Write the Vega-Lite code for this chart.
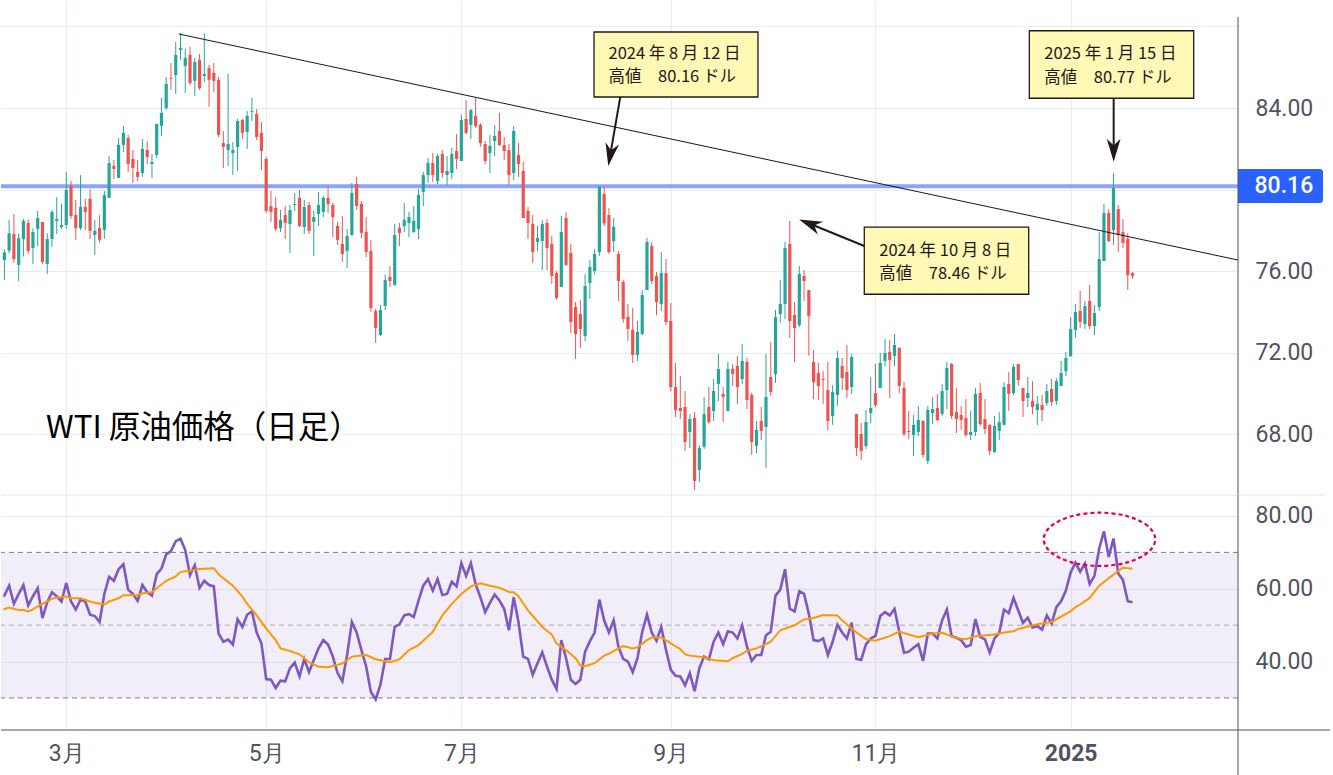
{
  "$schema": "https://vega.github.io/schema/vega-lite/v6.json",
  "padding": 0,
  "spacing": 0,
  "bounds": "flush",
  "background": "#ffffff",
  "config": {
    "view": {"stroke": null},
    "axis": {
      "title": null, "domain": false, "ticks": false, "labelFont": "Roboto", "labelFontSize": 23,
      "labelColor": "#50535e", "gridColor": "#e6eef4", "gridWidth": 1.2, "labelOverlap": false, "labelFlush": false
    }
  },
  "datasets": {
    "bars": [
      {"i":0,"o":76.54,"h":77.07,"l":75.56,"c":76.92},
      {"i":1,"o":76.99,"h":78.51,"l":76.87,"c":77.85},
      {"i":2,"o":77.82,"h":78.80,"l":76.41,"c":76.59},
      {"i":3,"o":76.30,"h":77.85,"l":75.51,"c":77.61},
      {"i":4,"o":77.57,"h":78.56,"l":76.71,"c":78.46},
      {"i":5,"o":78.36,"h":78.54,"l":76.84,"c":76.99},
      {"i":6,"o":77.13,"h":78.10,"l":76.35,"c":77.92},
      {"i":7,"o":78.07,"h":78.95,"l":77.23,"c":78.60},
      {"i":8,"o":78.41,"h":78.41,"l":76.35,"c":76.45},
      {"i":9,"o":76.35,"h":77.85,"l":75.86,"c":77.57},
      {"i":10,"o":77.57,"h":79.00,"l":77.18,"c":78.90},
      {"i":11,"o":78.46,"h":79.63,"l":77.82,"c":78.56},
      {"i":12,"o":78.16,"h":79.29,"l":78.07,"c":78.26},
      {"i":13,"o":78.26,"h":80.86,"l":78.07,"c":79.98},
      {"i":14,"o":80.17,"h":80.42,"l":78.56,"c":78.70},
      {"i":15,"o":78.75,"h":79.49,"l":77.53,"c":78.11},
      {"i":16,"o":78.11,"h":80.71,"l":78.02,"c":79.14},
      {"i":17,"o":79.14,"h":79.54,"l":78.02,"c":78.90},
      {"i":18,"o":79.54,"h":80.03,"l":77.57,"c":77.97},
      {"i":19,"o":77.77,"h":78.51,"l":76.79,"c":77.97},
      {"i":20,"o":78.11,"h":78.75,"l":77.38,"c":77.53},
      {"i":21,"o":78.02,"h":79.93,"l":77.57,"c":79.73},
      {"i":22,"o":79.59,"h":81.65,"l":79.59,"c":81.30},
      {"i":23,"o":81.16,"h":81.45,"l":80.52,"c":81.01},
      {"i":24,"o":80.57,"h":82.53,"l":80.57,"c":82.19},
      {"i":25,"o":82.19,"h":83.12,"l":81.84,"c":82.78},
      {"i":26,"o":82.53,"h":82.68,"l":80.86,"c":81.25},
      {"i":27,"o":81.50,"h":81.94,"l":80.32,"c":81.06},
      {"i":28,"o":80.86,"h":81.45,"l":80.42,"c":80.62},
      {"i":29,"o":80.81,"h":82.48,"l":80.62,"c":81.99},
      {"i":30,"o":81.94,"h":82.38,"l":81.25,"c":81.60},
      {"i":31,"o":81.25,"h":81.74,"l":80.57,"c":81.35},
      {"i":32,"o":81.70,"h":83.22,"l":81.55,"c":83.22},
      {"i":33,"o":83.12,"h":84.49,"l":82.63,"c":83.76},
      {"i":34,"o":84.00,"h":85.52,"l":83.90,"c":85.18},
      {"i":35,"o":85.47,"h":86.21,"l":84.89,"c":85.43},
      {"i":36,"o":85.62,"h":87.24,"l":84.69,"c":86.60},
      {"i":37,"o":86.85,"h":87.67,"l":86.36,"c":86.95},
      {"i":38,"o":86.06,"h":86.90,"l":84.74,"c":86.46},
      {"i":39,"o":86.60,"h":87.00,"l":85.13,"c":85.23},
      {"i":40,"o":85.33,"h":86.46,"l":84.59,"c":86.26},
      {"i":41,"o":86.36,"h":86.65,"l":84.89,"c":84.98},
      {"i":42,"o":85.57,"h":87.67,"l":85.28,"c":85.67},
      {"i":43,"o":85.96,"h":86.11,"l":84.05,"c":85.38},
      {"i":44,"o":85.72,"h":86.21,"l":84.79,"c":85.33},
      {"i":45,"o":85.38,"h":85.52,"l":82.58,"c":82.68},
      {"i":46,"o":82.28,"h":82.87,"l":81.06,"c":82.09},
      {"i":47,"o":81.94,"h":85.67,"l":81.16,"c":82.24},
      {"i":48,"o":81.79,"h":82.33,"l":80.71,"c":81.94},
      {"i":49,"o":82.09,"h":83.46,"l":80.91,"c":83.36},
      {"i":50,"o":83.41,"h":83.46,"l":82.48,"c":82.78},
      {"i":51,"o":82.82,"h":83.85,"l":81.99,"c":83.61},
      {"i":52,"o":83.81,"h":84.49,"l":83.36,"c":83.85},
      {"i":53,"o":83.71,"h":83.95,"l":82.43,"c":82.58},
      {"i":54,"o":82.78,"h":83.31,"l":80.96,"c":81.89},
      {"i":55,"o":81.50,"h":81.60,"l":78.85,"c":78.95},
      {"i":56,"o":79.19,"h":79.93,"l":78.41,"c":78.90},
      {"i":57,"o":79.10,"h":79.63,"l":77.97,"c":78.07},
      {"i":58,"o":78.11,"h":79.00,"l":77.92,"c":78.51},
      {"i":59,"o":78.75,"h":79.19,"l":77.57,"c":78.36},
      {"i":60,"o":78.31,"h":79.24,"l":76.89,"c":79.00},
      {"i":61,"o":79.24,"h":79.83,"l":78.95,"c":79.29},
      {"i":62,"o":79.59,"h":79.98,"l":78.16,"c":78.21},
      {"i":63,"o":78.16,"h":79.49,"l":77.82,"c":79.14},
      {"i":64,"o":79.24,"h":79.39,"l":77.82,"c":77.97},
      {"i":65,"o":78.41,"h":78.95,"l":76.74,"c":78.65},
      {"i":66,"o":78.80,"h":79.88,"l":78.21,"c":79.24},
      {"i":67,"o":78.90,"h":79.68,"l":78.65,"c":79.59},
      {"i":68,"o":79.59,"h":80.13,"l":78.85,"c":79.29},
      {"i":69,"o":79.24,"h":79.34,"l":77.67,"c":78.65},
      {"i":70,"o":78.21,"h":78.41,"l":77.28,"c":77.53},
      {"i":71,"o":77.33,"h":78.70,"l":76.45,"c":76.84},
      {"i":72,"o":76.99,"h":78.07,"l":76.15,"c":77.72},
      {"i":73,"o":77.77,"h":80.32,"l":77.72,"c":79.83},
      {"i":74,"o":80.27,"h":80.62,"l":79.00,"c":79.19},
      {"i":75,"o":79.29,"h":79.44,"l":77.62,"c":77.87},
      {"i":76,"o":77.92,"h":78.65,"l":76.69,"c":76.94},
      {"i":77,"o":76.99,"h":77.53,"l":74.00,"c":74.19},
      {"i":78,"o":74.04,"h":74.14,"l":72.47,"c":73.21},
      {"i":79,"o":72.86,"h":74.34,"l":72.81,"c":74.09},
      {"i":80,"o":74.29,"h":75.81,"l":74.09,"c":75.56},
      {"i":81,"o":75.71,"h":76.25,"l":75.22,"c":75.51},
      {"i":82,"o":75.32,"h":78.31,"l":75.27,"c":77.77},
      {"i":83,"o":78.11,"h":78.36,"l":77.23,"c":77.87},
      {"i":84,"o":78.21,"h":79.34,"l":77.92,"c":78.51},
      {"i":85,"o":78.36,"h":78.90,"l":77.67,"c":78.65},
      {"i":86,"o":77.92,"h":79.19,"l":77.87,"c":78.46},
      {"i":87,"o":78.07,"h":80.03,"l":77.57,"c":79.73},
      {"i":88,"o":79.88,"h":80.86,"l":79.19,"c":80.71},
      {"i":89,"o":80.71,"h":81.55,"l":80.32,"c":81.30},
      {"i":90,"o":81.30,"h":81.79,"l":80.37,"c":80.71},
      {"i":91,"o":80.42,"h":81.74,"l":80.27,"c":81.64},
      {"i":92,"o":81.74,"h":81.94,"l":80.57,"c":80.81},
      {"i":93,"o":80.71,"h":81.64,"l":80.22,"c":80.91},
      {"i":94,"o":80.81,"h":82.04,"l":80.52,"c":81.74},
      {"i":95,"o":81.89,"h":82.72,"l":81.01,"c":81.50},
      {"i":96,"o":81.40,"h":83.66,"l":81.40,"c":83.41},
      {"i":97,"o":83.46,"h":84.39,"l":82.72,"c":82.77},
      {"i":98,"o":83.17,"h":83.95,"l":82.48,"c":83.90},
      {"i":99,"o":83.61,"h":84.54,"l":83.02,"c":83.12},
      {"i":100,"o":83.17,"h":83.26,"l":82.09,"c":82.28},
      {"i":101,"o":82.23,"h":82.38,"l":81.25,"c":81.40},
      {"i":102,"o":81.79,"h":82.68,"l":80.81,"c":82.14},
      {"i":103,"o":82.38,"h":83.17,"l":81.64,"c":82.63},
      {"i":104,"o":82.87,"h":83.76,"l":82.14,"c":82.18},
      {"i":105,"o":82.18,"h":82.58,"l":81.45,"c":81.89},
      {"i":106,"o":81.94,"h":82.23,"l":80.22,"c":80.71},
      {"i":107,"o":80.81,"h":83.12,"l":80.47,"c":82.87},
      {"i":108,"o":81.69,"h":82.28,"l":80.61,"c":81.25},
      {"i":109,"o":80.91,"h":81.35,"l":78.60,"c":78.60},
      {"i":110,"o":78.95,"h":79.14,"l":77.57,"c":78.36},
      {"i":111,"o":78.31,"h":78.75,"l":76.39,"c":76.93},
      {"i":112,"o":77.43,"h":78.21,"l":76.98,"c":77.62},
      {"i":113,"o":77.47,"h":78.50,"l":76.05,"c":78.31},
      {"i":114,"o":78.36,"h":78.55,"l":76.05,"c":77.13},
      {"i":115,"o":77.33,"h":77.72,"l":75.37,"c":75.76},
      {"i":116,"o":75.90,"h":76.00,"l":74.58,"c":74.68},
      {"i":117,"o":75.22,"h":78.70,"l":75.22,"c":77.92},
      {"i":118,"o":78.60,"h":78.90,"l":76.25,"c":76.30},
      {"i":119,"o":76.89,"h":77.33,"l":72.96,"c":73.50},
      {"i":120,"o":74.24,"h":74.48,"l":71.68,"c":72.91},
      {"i":121,"o":73.89,"h":74.58,"l":72.22,"c":73.16},
      {"i":122,"o":72.81,"h":75.85,"l":72.57,"c":75.27},
      {"i":123,"o":75.41,"h":76.54,"l":74.63,"c":76.20},
      {"i":124,"o":76.00,"h":77.08,"l":75.85,"c":76.84},
      {"i":125,"o":76.93,"h":80.17,"l":76.74,"c":80.12},
      {"i":126,"o":79.78,"h":80.17,"l":78.21,"c":78.34},
      {"i":127,"o":78.75,"h":79.09,"l":76.84,"c":76.93},
      {"i":128,"o":77.47,"h":78.60,"l":76.93,"c":78.16},
      {"i":129,"o":76.84,"h":76.98,"l":74.53,"c":75.51},
      {"i":130,"o":75.46,"h":75.56,"l":73.45,"c":73.65},
      {"i":131,"o":73.75,"h":74.38,"l":72.57,"c":73.16},
      {"i":132,"o":73.11,"h":74.19,"l":71.49,"c":71.88},
      {"i":133,"o":71.88,"h":73.55,"l":71.59,"c":73.01},
      {"i":134,"o":72.91,"h":75.07,"l":72.86,"c":74.82},
      {"i":135,"o":75.07,"h":77.62,"l":75.07,"c":77.43},
      {"i":136,"o":77.23,"h":77.43,"l":75.37,"c":75.51},
      {"i":137,"o":75.76,"h":75.95,"l":73.84,"c":74.48},
      {"i":138,"o":74.38,"h":76.93,"l":74.04,"c":75.90},
      {"i":139,"o":75.90,"h":76.59,"l":73.35,"c":73.50},
      {"i":140,"o":73.55,"h":74.43,"l":70.11,"c":70.31},
      {"i":141,"o":70.31,"h":71.49,"l":68.84,"c":69.18},
      {"i":142,"o":69.28,"h":70.85,"l":68.74,"c":69.13},
      {"i":143,"o":69.33,"h":70.11,"l":67.17,"c":67.61},
      {"i":144,"o":68.10,"h":68.98,"l":67.32,"c":68.74},
      {"i":145,"o":68.79,"h":69.08,"l":65.26,"c":65.70},
      {"i":146,"o":66.24,"h":67.46,"l":65.65,"c":67.32},
      {"i":147,"o":67.37,"h":69.82,"l":67.27,"c":68.98},
      {"i":148,"o":69.33,"h":70.31,"l":68.50,"c":68.59},
      {"i":149,"o":69.13,"h":70.70,"l":68.64,"c":70.11},
      {"i":150,"o":70.46,"h":71.93,"l":69.62,"c":71.19},
      {"i":151,"o":69.97,"h":70.31,"l":68.59,"c":69.82},
      {"i":152,"o":69.13,"h":71.54,"l":69.13,"c":71.19},
      {"i":153,"o":71.19,"h":71.44,"l":70.36,"c":70.95},
      {"i":154,"o":71.34,"h":71.83,"l":69.48,"c":70.31},
      {"i":155,"o":70.70,"h":72.42,"l":70.46,"c":71.59},
      {"i":156,"o":71.54,"h":71.73,"l":69.23,"c":69.67},
      {"i":157,"o":69.92,"h":70.02,"l":66.97,"c":67.61},
      {"i":158,"o":67.42,"h":68.64,"l":67.07,"c":68.20},
      {"i":159,"o":68.64,"h":69.33,"l":67.71,"c":68.15},
      {"i":160,"o":68.35,"h":71.93,"l":66.34,"c":69.82},
      {"i":161,"o":70.80,"h":72.52,"l":69.87,"c":70.06},
      {"i":162,"o":70.95,"h":74.09,"l":70.51,"c":73.74},
      {"i":163,"o":73.89,"h":75.56,"l":73.45,"c":74.38},
      {"i":164,"o":74.38,"h":77.43,"l":73.65,"c":77.13},
      {"i":165,"o":77.33,"h":78.46,"l":72.71,"c":73.55},
      {"i":166,"o":73.84,"h":74.48,"l":71.54,"c":73.20},
      {"i":167,"o":73.35,"h":76.25,"l":73.25,"c":75.85},
      {"i":168,"o":75.76,"h":76.05,"l":74.53,"c":75.51},
      {"i":169,"o":75.07,"h":75.07,"l":71.85,"c":73.79},
      {"i":170,"o":71.54,"h":72.12,"l":69.72,"c":70.54},
      {"i":171,"o":71.00,"h":71.50,"l":69.67,"c":70.36},
      {"i":172,"o":70.70,"h":71.09,"l":69.47,"c":70.65},
      {"i":173,"o":70.16,"h":71.54,"l":68.20,"c":68.64},
      {"i":174,"o":68.89,"h":70.41,"l":68.45,"c":70.06},
      {"i":175,"o":69.92,"h":72.08,"l":69.38,"c":71.73},
      {"i":176,"o":71.34,"h":71.73,"l":70.16,"c":70.75},
      {"i":177,"o":71.05,"h":72.37,"l":69.77,"c":70.16},
      {"i":178,"o":70.31,"h":71.93,"l":69.97,"c":71.78},
      {"i":179,"o":68.98,"h":68.98,"l":66.92,"c":67.32},
      {"i":180,"o":68.00,"h":68.54,"l":66.73,"c":67.17},
      {"i":181,"o":67.41,"h":69.18,"l":67.27,"c":68.59},
      {"i":182,"o":69.03,"h":70.80,"l":68.54,"c":69.28},
      {"i":183,"o":70.01,"h":71.44,"l":69.33,"c":69.43},
      {"i":184,"o":70.26,"h":71.98,"l":70.26,"c":71.49},
      {"i":185,"o":71.59,"h":72.67,"l":71.34,"c":71.98},
      {"i":186,"o":72.03,"h":72.62,"l":69.77,"c":71.63},
      {"i":187,"o":71.83,"h":72.91,"l":71.34,"c":72.37},
      {"i":188,"o":72.22,"h":72.27,"l":70.01,"c":70.36},
      {"i":189,"o":70.26,"h":70.55,"l":67.90,"c":68.00},
      {"i":190,"o":68.15,"h":69.13,"l":67.76,"c":68.10},
      {"i":191,"o":67.95,"h":68.94,"l":66.92,"c":68.45},
      {"i":192,"o":68.10,"h":69.38,"l":67.90,"c":68.69},
      {"i":193,"o":68.64,"h":68.69,"l":66.83,"c":66.97},
      {"i":194,"o":66.68,"h":69.38,"l":66.53,"c":69.18},
      {"i":195,"o":69.03,"h":69.82,"l":68.49,"c":69.23},
      {"i":196,"o":69.28,"h":69.97,"l":68.64,"c":68.69},
      {"i":197,"o":68.99,"h":70.46,"l":68.89,"c":70.11},
      {"i":198,"o":70.16,"h":71.54,"l":69.23,"c":71.24},
      {"i":199,"o":71.44,"h":71.49,"l":68.74,"c":68.89},
      {"i":200,"o":69.08,"h":70.26,"l":68.05,"c":68.74},
      {"i":201,"o":68.94,"h":69.38,"l":68.20,"c":68.69},
      {"i":202,"o":68.79,"h":69.72,"l":67.86,"c":67.95},
      {"i":203,"o":67.95,"h":69.13,"l":67.71,"c":68.10},
      {"i":204,"o":68.10,"h":70.26,"l":67.90,"c":69.97},
      {"i":205,"o":70.02,"h":70.51,"l":68.40,"c":68.49},
      {"i":206,"o":68.74,"h":69.72,"l":68.00,"c":68.25},
      {"i":207,"o":68.45,"h":68.49,"l":66.97,"c":67.17},
      {"i":208,"o":67.12,"h":68.89,"l":67.07,"c":68.40},
      {"i":209,"o":68.15,"h":69.08,"l":67.71,"c":68.59},
      {"i":210,"o":68.45,"h":70.55,"l":68.45,"c":70.31},
      {"i":211,"o":70.46,"h":71.05,"l":69.13,"c":69.97},
      {"i":212,"o":70.02,"h":71.44,"l":69.92,"c":71.29},
      {"i":213,"o":71.44,"h":71.44,"l":70.36,"c":70.65},
      {"i":214,"o":70.26,"h":70.26,"l":68.84,"c":69.62},
      {"i":215,"o":69.77,"h":70.80,"l":69.33,"c":70.02},
      {"i":216,"o":69.62,"h":70.60,"l":68.98,"c":69.33},
      {"i":217,"o":69.18,"h":69.87,"l":68.45,"c":69.48},
      {"i":218,"o":69.43,"h":69.92,"l":68.64,"c":69.18},
      {"i":219,"o":69.52,"h":70.46,"l":69.38,"c":70.11},
      {"i":220,"o":70.21,"h":70.70,"l":69.38,"c":69.57},
      {"i":221,"o":69.62,"h":70.75,"l":69.43,"c":70.60},
      {"i":222,"o":70.36,"h":71.59,"l":70.36,"c":71.00},
      {"i":223,"o":71.09,"h":72.03,"l":70.85,"c":71.73},
      {"i":224,"o":71.83,"h":73.74,"l":71.78,"c":73.15},
      {"i":225,"o":73.11,"h":74.38,"l":72.71,"c":73.99},
      {"i":226,"o":74.04,"h":75.02,"l":73.20,"c":73.50},
      {"i":227,"o":73.40,"h":74.53,"l":73.16,"c":74.28},
      {"i":228,"o":74.53,"h":75.31,"l":73.16,"c":73.30},
      {"i":229,"o":73.30,"h":74.33,"l":72.86,"c":73.94},
      {"i":230,"o":74.24,"h":77.91,"l":74.04,"c":76.59},
      {"i":231,"o":76.49,"h":79.29,"l":76.49,"c":78.85},
      {"i":232,"o":78.85,"h":79.04,"l":77.42,"c":77.47},
      {"i":233,"o":78.01,"h":80.81,"l":77.28,"c":80.07},
      {"i":234,"o":79.04,"h":79.24,"l":76.93,"c":77.77},
      {"i":235,"o":77.91,"h":78.55,"l":77.13,"c":77.38},
      {"i":236,"o":77.59,"h":77.87,"l":75.07,"c":75.80},
      {"i":237,"o":75.90,"h":75.95,"l":75.61,"c":75.76}
    ],
    "rsi": [
      {"i":-0.2,"v":58.12},{"i":0,"v":58.12},{"i":1,"v":60.84},{"i":2,"v":55.86},{"i":3,"v":58.57},{"i":4,"v":61.02},{"i":5,"v":55.40},{"i":6,"v":57.94},{"i":7,"v":60.12},{"i":8,"v":51.96},
      {"i":9,"v":56.31},{"i":10,"v":59.03},{"i":11,"v":57.94},{"i":12,"v":56.49},{"i":13,"v":61.57},{"i":14,"v":56.49},{"i":15,"v":54.31},{"i":16,"v":57.03},{"i":17,"v":56.49},{"i":18,"v":52.86},
      {"i":19,"v":52.50},{"i":20,"v":50.87},{"i":21,"v":58.57},{"i":22,"v":63.29},{"i":23,"v":62.20},{"i":24,"v":65.37},{"i":25,"v":66.73},{"i":26,"v":59.75},{"i":27,"v":58.57},{"i":28,"v":56.67},
      {"i":29,"v":61.02},{"i":30,"v":59.03},{"i":31,"v":58.12},{"i":32,"v":64.01},{"i":33,"v":65.56},{"i":34,"v":69.45},{"i":35,"v":70.36},{"i":36,"v":73.08},{"i":37,"v":73.71},{"i":38,"v":70.63},
      {"i":39,"v":63.74},{"i":40,"v":66.46},{"i":41,"v":60.21},{"i":42,"v":62.20},{"i":43,"v":61.02},{"i":44,"v":60.66},{"i":45,"v":47.70},{"i":46,"v":45.43},{"i":47,"v":46.06},{"i":48,"v":44.70},
      {"i":49,"v":51.59},{"i":50,"v":49.51},{"i":51,"v":52.86},{"i":52,"v":53.77},{"i":53,"v":47.97},{"i":54,"v":44.98},{"i":55,"v":35.18},{"i":56,"v":35.00},{"i":57,"v":32.74},{"i":58,"v":34.73},
      {"i":59,"v":34.55},{"i":60,"v":38.18},{"i":61,"v":39.72},{"i":62,"v":35.91},{"i":63,"v":40.71},{"i":64,"v":37.09},{"i":65,"v":40.44},{"i":66,"v":43.62},{"i":67,"v":45.88},{"i":68,"v":44.70},
      {"i":69,"v":41.35},{"i":70,"v":36.82},{"i":71,"v":34.55},{"i":72,"v":41.80},{"i":73,"v":50.87},{"i":74,"v":47.97},{"i":75,"v":43.16},{"i":76,"v":38.63},{"i":77,"v":31.65},{"i":78,"v":29.56},
      {"i":79,"v":33.64},{"i":80,"v":40.71},{"i":81,"v":40.71},{"i":82,"v":49.51},{"i":83,"v":50.23},{"i":84,"v":52.68},{"i":85,"v":53.04},{"i":86,"v":52.23},{"i":87,"v":56.76},{"i":88,"v":60.84},
      {"i":89,"v":62.65},{"i":90,"v":59.48},{"i":91,"v":62.65},{"i":92,"v":58.30},{"i":93,"v":58.57},{"i":94,"v":61.93},{"i":95,"v":60.66},{"i":96,"v":67.01},{"i":97,"v":63.56},{"i":98,"v":67.01},
      {"i":99,"v":61.29},{"i":100,"v":57.67},{"i":101,"v":53.59},{"i":102,"v":56.13},{"i":103,"v":58.39},{"i":104,"v":56.76},{"i":105,"v":54.49},{"i":106,"v":48.60},{"i":107,"v":57.67},{"i":108,"v":50.87},
      {"i":109,"v":41.35},{"i":110,"v":40.71},{"i":111,"v":36.36},{"i":112,"v":39.54},{"i":113,"v":42.53},{"i":114,"v":38.63},{"i":115,"v":35.00},{"i":116,"v":32.46},{"i":117,"v":45.88},{"i":118,"v":40.90},
      {"i":119,"v":35.00},{"i":120,"v":33.82},{"i":121,"v":35.00},{"i":122,"v":42.71},{"i":123,"v":45.61},{"i":124,"v":47.97},{"i":125,"v":57.03},{"i":126,"v":51.32},{"i":127,"v":47.97},{"i":128,"v":51.32},
      {"i":129,"v":44.07},{"i":130,"v":40.71},{"i":131,"v":39.99},{"i":132,"v":37.09},{"i":133,"v":40.90},{"i":134,"v":48.15},{"i":135,"v":52.86},{"i":136,"v":47.97},{"i":137,"v":45.70},{"i":138,"v":49.51},
      {"i":139,"v":43.16},{"i":140,"v":37.72},{"i":141,"v":36.09},{"i":142,"v":35.91},{"i":143,"v":33.46},{"i":144,"v":36.82},{"i":145,"v":31.83},{"i":146,"v":38.18},{"i":147,"v":41.35},{"i":148,"v":40.62},
      {"i":149,"v":45.43},{"i":150,"v":47.97},{"i":151,"v":44.79},{"i":152,"v":48.33},{"i":153,"v":47.97},{"i":154,"v":46.34},{"i":155,"v":49.96},{"i":156,"v":44.07},{"i":157,"v":40.17},{"i":158,"v":41.80},
      {"i":159,"v":41.80},{"i":160,"v":47.24},{"i":161,"v":48.15},{"i":162,"v":58.12},{"i":163,"v":59.75},{"i":164,"v":65.37},{"i":165,"v":54.49},{"i":166,"v":53.77},{"i":167,"v":59.30},{"i":168,"v":58.57},
      {"i":169,"v":53.13},{"i":170,"v":45.88},{"i":171,"v":45.61},{"i":172,"v":46.34},{"i":173,"v":41.80},{"i":174,"v":45.43},{"i":175,"v":50.14},{"i":176,"v":47.97},{"i":177,"v":46.34},{"i":178,"v":50.69},
      {"i":179,"v":40.71},{"i":180,"v":40.44},{"i":181,"v":44.70},{"i":182,"v":46.34},{"i":183,"v":47.06},{"i":184,"v":52.50},{"i":185,"v":53.59},{"i":186,"v":52.68},{"i":187,"v":54.49},{"i":188,"v":48.15},
      {"i":189,"v":42.44},{"i":190,"v":42.71},{"i":191,"v":43.80},{"i":192,"v":44.79},{"i":193,"v":40.17},{"i":194,"v":47.69},{"i":195,"v":47.70},{"i":196,"v":46.34},{"i":197,"v":51.32},{"i":198,"v":54.31},
      {"i":199,"v":46.97},{"i":200,"v":46.52},{"i":201,"v":45.88},{"i":202,"v":44.07},{"i":203,"v":44.52},{"i":204,"v":51.69},{"i":205,"v":46.79},{"i":206,"v":46.06},{"i":207,"v":42.44},{"i":208,"v":46.34},
      {"i":209,"v":47.88},{"i":210,"v":54.22},{"i":211,"v":53.32},{"i":212,"v":57.49},{"i":213,"v":54.04},{"i":214,"v":50.60},{"i":215,"v":52.05},{"i":216,"v":49.33},{"i":217,"v":49.69},{"i":218,"v":48.78},
      {"i":219,"v":52.68},{"i":220,"v":50.42},{"i":221,"v":54.95},{"i":222,"v":56.58},{"i":223,"v":59.48},{"i":224,"v":64.47},{"i":225,"v":67.19},{"i":226,"v":64.65},{"i":227,"v":66.92},{"i":228,"v":61.29},
      {"i":229,"v":63.56},{"i":230,"v":71.09},{"i":231,"v":75.80},{"i":232,"v":68.73},{"i":233,"v":73.81},{"i":234,"v":64.20},{"i":235,"v":62.38},{"i":236,"v":56.58},{"i":237,"v":56.31}
    ],
    "ma": [
      {"i":-0.2,"v":54.31},{"i":1,"v":54.86},{"i":3,"v":54.13},{"i":4,"v":54.13},{"i":5,"v":53.77},{"i":6,"v":54.31},{"i":7,"v":55.13},{"i":8,"v":55.86},{"i":10,"v":57.21},{"i":11,"v":57.58},
      {"i":13,"v":57.85},{"i":14,"v":57.40},{"i":16,"v":57.40},{"i":18,"v":56.49},{"i":19,"v":56.13},{"i":21,"v":55.67},{"i":22,"v":56.49},{"i":24,"v":57.40},{"i":25,"v":58.21},{"i":28,"v":58.21},
      {"i":29,"v":58.76},{"i":31,"v":59.03},{"i":32,"v":60.12},{"i":34,"v":62.20},{"i":36,"v":63.38},{"i":37,"v":64.65},{"i":39,"v":64.92},{"i":41,"v":65.46},{"i":44,"v":65.65},{"i":45,"v":64.01},
      {"i":48,"v":60.84},{"i":50,"v":57.85},{"i":51,"v":55.86},{"i":53,"v":52.68},{"i":55,"v":49.06},{"i":57,"v":45.88},{"i":58,"v":43.62},{"i":60,"v":42.89},{"i":62,"v":41.98},{"i":64,"v":39.81},
      {"i":66,"v":38.54},{"i":68,"v":38.45},{"i":70,"v":39.08},{"i":71,"v":39.45},{"i":73,"v":41.35},{"i":76,"v":41.80},{"i":78,"v":40.62},{"i":81,"v":39.81},{"i":83,"v":40.62},{"i":85,"v":43.16},
      {"i":87,"v":44.52},{"i":90,"v":48.15},{"i":92,"v":52.68},{"i":94,"v":55.86},{"i":96,"v":58.57},{"i":98,"v":60.66},{"i":100,"v":61.48},{"i":102,"v":60.84},{"i":104,"v":60.30},{"i":106,"v":59.12},
      {"i":107,"v":59.03},{"i":108,"v":57.94},{"i":110,"v":54.04},{"i":113,"v":49.51},{"i":115,"v":47.42},{"i":116,"v":44.98},{"i":118,"v":43.16},{"i":120,"v":40.90},{"i":121,"v":38.90},{"i":122,"v":38.72},
      {"i":124,"v":39.54},{"i":126,"v":41.62},{"i":127,"v":42.16},{"i":130,"v":44.25},{"i":132,"v":43.62},{"i":133,"v":43.89},{"i":135,"v":45.88},{"i":136,"v":46.61},{"i":138,"v":46.61},{"i":140,"v":44.98},
      {"i":142,"v":43.43},{"i":143,"v":41.98},{"i":144,"v":41.62},{"i":147,"v":41.17},{"i":149,"v":40.35},{"i":152,"v":40.08},{"i":153,"v":40.90},{"i":155,"v":42.07},{"i":156,"v":42.98},{"i":158,"v":43.62},
      {"i":160,"v":44.79},{"i":161,"v":45.43},{"i":163,"v":48.60},{"i":166,"v":49.96},{"i":168,"v":51.59},{"i":170,"v":51.96},{"i":172,"v":52.77},{"i":175,"v":52.68},{"i":176,"v":51.32},{"i":179,"v":47.97},
      {"i":181,"v":46.15},{"i":183,"v":45.70},{"i":186,"v":46.97},{"i":188,"v":48.24},{"i":190,"v":47.42},{"i":192,"v":46.70},{"i":195,"v":47.69},{"i":197,"v":47.88},{"i":200,"v":46.43},{"i":202,"v":46.15},
      {"i":204,"v":46.97},{"i":208,"v":47.42},{"i":210,"v":47.97},{"i":212,"v":48.33},{"i":213,"v":48.96},{"i":217,"v":50.23},{"i":220,"v":50.87},{"i":224,"v":53.86},{"i":225,"v":54.95},{"i":226,"v":55.67},
      {"i":228,"v":57.49},{"i":230,"v":60.84},{"i":234,"v":64.92},{"i":235,"v":65.74},{"i":237,"v":65.47}
    ],
    "boxes": [
      {"i":123.87,"j":158.32,"p":84.54,"q":87.73},
      {"i":180.65,"j":215.19,"p":74.86,"q":78.15},
      {"i":215.32,"j":249.85,"p":84.48,"q":87.79}
    ],
    "notes": [
      {"i":126.91,"p":86.65,"t":"2024 年 8 月 12 日"},
      {"i":126.91,"p":85.52,"t":"高値　80.16 ドル"},
      {"i":183.8,"p":77.0,"t":"2024 年 10 月 8 日"},
      {"i":183.8,"p":75.84,"t":"高値　78.46 ドル"},
      {"i":218.47,"p":86.63,"t":"2025 年 1 月 15 日"},
      {"i":218.47,"p":85.49,"t":"高値　80.77 ドル"}
    ],
    "arrows": [
      {"a":"aug","i":129.39,"p":84.55},{"a":"aug","i":127.29,"p":81.71},
      {"a":"oct","i":180.65,"p":77.23},{"a":"oct","i":169.22,"p":78.32},
      {"a":"jan","i":233.04,"p":84.48},{"a":"jan","i":233.04,"p":81.93}
    ],
    "ellipse": [
      {"k":0,"i":241.78,"v":73.6},{"k":1,"i":240.21,"v":77.26},{"k":2,"i":235.92,"v":79.94},{"k":3,"i":230.06,"v":80.92},
      {"k":4,"i":224.2,"v":79.94},{"k":5,"i":219.91,"v":77.26},{"k":6,"i":218.34,"v":73.6},{"k":7,"i":219.91,"v":69.94},
      {"k":8,"i":224.2,"v":67.26},{"k":9,"i":230.06,"v":66.28},{"k":10,"i":235.92,"v":67.26},{"k":11,"i":240.21,"v":69.94}
    ]
  },
  "vconcat": [
    {
      "width": 1237,
      "height": 495,
      "layer": [
        {
          "data": {"name": "bars"},
          "mark": {"type": "rule", "strokeWidth": 1, "clip": true, "opacity": 0},
          "encoding": {
            "x": {
              "field": "i", "type": "quantitative",
              "scale": {"domain": [-0.71, 259.16], "nice": false, "zero": false, "padding": 0},
              "axis": {"title": null, "values": [13, 55, 96, 140, 183, 224], "labels": false, "grid": true}
            },
            "y": {
              "field": "l", "type": "quantitative",
              "scale": {"domain": [65.01, 89.3], "nice": false, "zero": false},
              "axis": {
                "title": null, "orient": "right", "values": [68, 72, 76, 80, 84, 88], "grid": true, "labelPadding": 17,
                "labelExpr": "datum.value == 80 || datum.value == 88 ? '' : format(datum.value, '.2f')"
              }
            },
            "y2": {"field": "h"}
          }
        },
        {
          "data": {"values": [{"i": -0.71, "j": 259.16, "p": 80.062, "q": 80.258}]},
          "mark": {"type": "rect", "fill": "#8ca5fb"},
          "encoding": {
            "x": {"field": "i", "type": "quantitative"},
            "x2": {"field": "j"},
            "y": {"field": "p", "type": "quantitative"},
            "y2": {"field": "q"}
          }
        },
        {
          "data": {"name": "bars"},
          "mark": {"type": "rule", "strokeWidth": 1, "clip": true},
          "encoding": {
            "x": {"field": "i", "type": "quantitative"},
            "y": {"field": "l", "type": "quantitative"},
            "y2": {"field": "h"},
            "color": {"condition": {"test": "datum.c >= datum.o", "value": "#26a69a"}, "value": "#ef5350"}
          }
        },
        {
          "data": {"name": "bars"},
          "mark": {"type": "bar", "size": 3.2, "clip": true},
          "encoding": {
            "x": {"field": "i", "type": "quantitative"},
            "y": {"field": "o", "type": "quantitative"},
            "y2": {"field": "c"},
            "color": {"condition": {"test": "datum.c >= datum.o", "value": "#26a69a"}, "value": "#ef5350"}
          }
        },
        {
          "data": {"values": [{"i": 36.68, "p": 87.63}, {"i": 259.16, "p": 76.54}]},
          "mark": {"type": "line", "color": "#131722", "strokeWidth": 1},
          "encoding": {
            "x": {"field": "i", "type": "quantitative"},
            "y": {"field": "p", "type": "quantitative"}
          }
        },
        {
          "data": {"name": "arrows"},
          "mark": {"type": "line", "color": "#231815", "strokeWidth": 2},
          "encoding": {
            "x": {"field": "i", "type": "quantitative"},
            "y": {"field": "p", "type": "quantitative"},
            "detail": {"field": "a"}
          }
        },
        {
          "data": {"name": "arrows"},
          "transform": [{"filter": "datum.a == 'aug' && datum.p < 84"}],
          "mark": {"type": "point", "shape": "M0,-1 L0.6,1 L0,0.4 L-0.6,1 Z", "filled": true, "opacity": 1, "color": "#231815", "size": 529, "angle": 190},
          "encoding": {
            "x": {"field": "i", "type": "quantitative"},
            "y": {"field": "p", "type": "quantitative"}
          }
        },
        {
          "data": {"name": "arrows"},
          "transform": [{"filter": "datum.a == 'oct' && datum.i < 170"}],
          "mark": {"type": "point", "shape": "M0,-1 L0.6,1 L0,0.4 L-0.6,1 Z", "filled": true, "opacity": 1, "color": "#231815", "size": 529, "angle": 292},
          "encoding": {
            "x": {"field": "i", "type": "quantitative"},
            "y": {"field": "p", "type": "quantitative"}
          }
        },
        {
          "data": {"name": "arrows"},
          "transform": [{"filter": "datum.a == 'jan' && datum.p < 84"}],
          "mark": {"type": "point", "shape": "M0,-1 L0.6,1 L0,0.4 L-0.6,1 Z", "filled": true, "opacity": 1, "color": "#231815", "size": 529, "angle": 180},
          "encoding": {
            "x": {"field": "i", "type": "quantitative"},
            "y": {"field": "p", "type": "quantitative"}
          }
        },
        {
          "data": {"name": "boxes"},
          "mark": {"type": "rect", "fill": "#fff9b5", "stroke": "#231815", "strokeWidth": 1.3},
          "encoding": {
            "x": {"field": "i", "type": "quantitative"},
            "x2": {"field": "j"},
            "y": {"field": "p", "type": "quantitative"},
            "y2": {"field": "q"}
          }
        },
        {
          "data": {"name": "notes"},
          "mark": {"type": "text", "align": "left", "baseline": "middle", "font": "Noto Sans CJK JP", "fontSize": 16.5, "color": "#231815"},
          "encoding": {
            "x": {"field": "i", "type": "quantitative"},
            "y": {"field": "p", "type": "quantitative"},
            "text": {"field": "t"}
          }
        },
        {
          "data": {"values": [{"i": 8.74, "p": 68.25, "t": "WTI 原油価格（日足）"}]},
          "mark": {"type": "text", "align": "left", "baseline": "middle", "font": "Noto Sans CJK JP", "fontSize": 31.5, "color": "#000000"},
          "encoding": {
            "x": {"field": "i", "type": "quantitative"},
            "y": {"field": "p", "type": "quantitative"},
            "text": {"field": "t"}
          }
        },
        {
          "data": {"values": [{"i": 259.16, "j": 277.02, "p": 79.34, "q": 81.01}]},
          "mark": {"type": "rect", "fill": "#2962ff", "cornerRadiusTopRight": 3, "cornerRadiusBottomRight": 3},
          "encoding": {
            "x": {"field": "i", "type": "quantitative"},
            "x2": {"field": "j"},
            "y": {"field": "p", "type": "quantitative"},
            "y2": {"field": "q"}
          }
        },
        {
          "data": {"values": [{"i": 268.8, "p": 80.16, "t": "80.16"}]},
          "mark": {"type": "text", "align": "center", "baseline": "middle", "font": "Roboto", "fontSize": 23, "fontWeight": 500, "color": "#ffffff"},
          "encoding": {
            "x": {"field": "i", "type": "quantitative"},
            "y": {"field": "p", "type": "quantitative"},
            "text": {"field": "t"}
          }
        },
        {
          "data": {"values": [{"i": 259.16, "p": 65.01, "q": 88.47}]},
          "mark": {"type": "rule", "color": "#50535e", "strokeWidth": 1},
          "encoding": {
            "x": {"field": "i", "type": "quantitative"},
            "y": {"field": "p", "type": "quantitative"},
            "y2": {"field": "q"}
          }
        },
        {
          "data": {"values": [{"i": -0.71, "j": 277.5, "p": 65.01}]},
          "mark": {"type": "rule", "color": "#e0e3eb", "strokeWidth": 1},
          "encoding": {
            "x": {"field": "i", "type": "quantitative"},
            "x2": {"field": "j"},
            "y": {"field": "p", "type": "quantitative"}
          }
        }
      ]
    },
    {
      "width": 1237,
      "height": 235,
      "layer": [
        {
          "data": {"values": [{"i": -0.71, "j": 259.16, "v": 30, "w": 70}]},
          "mark": {"type": "rect", "fill": "#7e57c2", "opacity": 0.1},
          "encoding": {
            "x": {
              "field": "i", "type": "quantitative",
              "scale": {"domain": [-0.71, 259.16], "nice": false, "zero": false, "padding": 0},
              "axis": {
                "title": null, "values": [13, 55, 96, 140, 183, 224], "grid": true, "labelPadding": 12,
                "labelExpr": "{13: '3月', 55: '5月', 96: '7月', 140: '9月', 183: '11月', 224: '2025'}[datum.value]",
                "labelFontWeight": {"condition": {"test": "datum.value == 224", "value": "bold"}, "value": "normal"}
              }
            },
            "x2": {"field": "j"},
            "y": {
              "field": "v", "type": "quantitative",
              "scale": {"domain": [21.18, 85.77], "nice": false, "zero": false},
              "axis": {"title": null, "orient": "right", "values": [40, 60, 80], "grid": true, "labelPadding": 17, "format": ".2f"}
            },
            "y2": {"field": "w"}
          }
        },
        {
          "data": {"values": [{"v": 70}, {"v": 30}]},
          "mark": {"type": "rule", "color": "#787b86", "strokeWidth": 1, "strokeDash": [5, 4]},
          "encoding": {"y": {"field": "v", "type": "quantitative"}}
        },
        {
          "data": {"values": [{"v": 50}]},
          "mark": {"type": "rule", "color": "#a9abb3", "strokeWidth": 1, "strokeDash": [5, 4]},
          "encoding": {"y": {"field": "v", "type": "quantitative"}}
        },
        {
          "data": {"name": "rsi"},
          "mark": {"type": "line", "color": "#7e57c2", "strokeWidth": 2.6, "clip": true},
          "encoding": {
            "x": {"field": "i", "type": "quantitative"},
            "y": {"field": "v", "type": "quantitative"}
          }
        },
        {
          "data": {"name": "ma"},
          "mark": {"type": "line", "color": "#ff9800", "strokeWidth": 2, "clip": true},
          "encoding": {
            "x": {"field": "i", "type": "quantitative"},
            "y": {"field": "v", "type": "quantitative"}
          }
        },
        {
          "data": {"name": "ellipse"},
          "mark": {"type": "line", "color": "#e6004c", "strokeWidth": 2.2, "strokeDash": [4, 3], "interpolate": "cardinal-closed"},
          "encoding": {
            "x": {"field": "i", "type": "quantitative"},
            "y": {"field": "v", "type": "quantitative"},
            "order": {"field": "k"}
          }
        },
        {
          "data": {"values": [{"i": 259.16, "v": 8.8, "w": 85.77}]},
          "mark": {"type": "rule", "color": "#50535e", "strokeWidth": 1},
          "encoding": {
            "x": {"field": "i", "type": "quantitative"},
            "y": {"field": "v", "type": "quantitative"},
            "y2": {"field": "w"}
          }
        },
        {
          "data": {"values": [{"i": -0.71, "j": 278.5, "v": 21.18}]},
          "mark": {"type": "rule", "color": "#50535e", "strokeWidth": 1},
          "encoding": {
            "x": {"field": "i", "type": "quantitative"},
            "x2": {"field": "j"},
            "y": {"field": "v", "type": "quantitative"}
          }
        }
      ]
    }
  ]
}
